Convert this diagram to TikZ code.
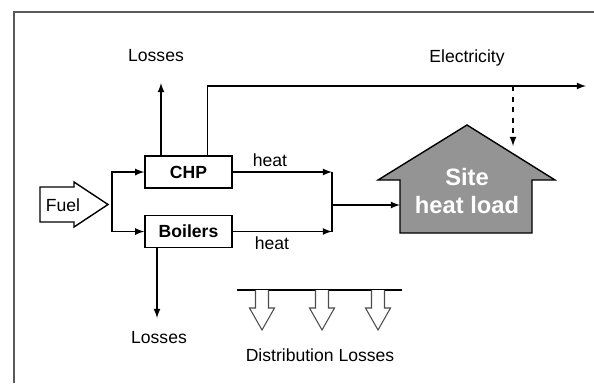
\documentclass[tikz,border=0pt]{standalone}
\usepackage{fontspec}
\setmainfont{Liberation Sans}
\usetikzlibrary{arrows,calc}

\begin{document}
\begin{tikzpicture}[x=0.02cm,y=-0.02cm,
	every node/.style={font=\fontsize{10}{12}\selectfont},
	unit/.style={draw,thick,minimum width=1.74cm,minimum height=0.64cm,font=\fontsize{10}{12}\selectfont\bfseries},
	flow/.style={thick,-latex},
	hollow/.style={draw=black!70,fill=white,line width=0.6pt}]
	\useasboundingbox (0,0) rectangle (594,383);
	\draw[line width=1.2pt,black!65] (14,383) -- (14,12) -- (594,12);

	% fuel in
	\draw[hollow,thick,draw=black] (40,187) -- (74,187) -- (74,182) -- (108,204.5) -- (74,227) -- (74,222) -- (40,222) -- cycle;
	\node (fuel) at (63,205) {Fuel};
	\coordinate (split) at (112,204.5);

	\node[unit] (chp) at (188.5,172) {CHP};
	\node[unit] (boil) at (188.5,231.5) {Boilers};

	\draw[flow] (split) |- (chp.west);
	\draw[flow] (split) |- (boil.west);

	% losses
	\node (losstop) at (156,56) {Losses};
	\coordinate (lossup) at (161,83);
	\draw[flow] (lossup |- chp.north) -- (lossup);
	\node (lossbot) at (159,338) {Losses};
	\coordinate (lossdown) at (157,318);
	\draw[flow] (lossdown |- boil.south) -- (lossdown);

	% electricity
	\node (elec) at (467,58) {Electricity};
	\coordinate (elecend) at (586,86);
	\draw[flow] ([xshift=1.26cm]chp.north west) |- (elecend);
	\coordinate (tap) at (513,86);
	\coordinate (tapend) at (513,146);
	\draw[thick,dashed,-latex] (tap) -- (tapend);

	% site
	\draw[thick,fill=black!42] (378,180) -- (467,125) -- (555,180) -- (532,180) -- (532,233) -- (400,233) -- (400,180) -- cycle;
	\node[align=center,text=white,font=\fontsize{13.5}{16.4}\selectfont\bfseries] (site) at (467,191) {Site\\heat load};
	\coordinate (load) at (400,205);

	% heat
	\coordinate (jtop) at (332,172);
	\coordinate (jbot) at (332,231.5);
	\coordinate (jmid) at (332,205);
	\draw[flow] (chp.east) -- (jtop);
	\draw[flow] (boil.east) -- (jbot);
	\draw[thick] (jtop) -- (jbot);
	\draw[flow] (jmid) -- (load);
	\node (heattop) at (270,160) {heat};
	\node (heatbot) at (272,243) {heat};

	% distribution
	\draw[thick] (237,290) -- (402,290);
	\foreach \x in {262,322,378}
		\draw[hollow] (\x-6.5,290) -- (\x-6.5,308) -- (\x-12.5,308) -- (\x,330) -- (\x+12.5,308) -- (\x+6.5,308) -- (\x+6.5,290);
	\node (dist) at (320,355) {Distribution Losses};
\end{tikzpicture}
\end{document}
